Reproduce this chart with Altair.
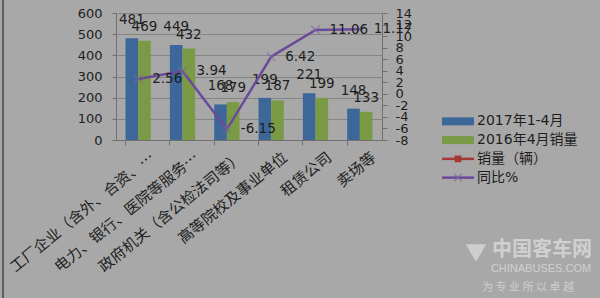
import altair as alt
import pandas as pd

categories = ["工厂企业（含外、合资、…", "电力、银行、医院等服务…", "政府机关（含公检法司等）",
              "高等院校及事业单位", "租赁公司", "卖场等"]
series_names = ["2017年1-4月", "2016年4月销量"]
sales_2017 = [481, 449, 168, 199, 221, 148]
sales_2016 = [469, 432, 179, 187, 199, 133]
yoy_pct = [2.56, 3.94, -6.15, 6.42, 11.06, 11.17]
legend_names = ["2017年1-4月", "2016年4月销量", "销量（辆）", "同比%"]
legend_kinds = ["bar", "bar", "line", "line"]
left_ticks = list(range(0, 601, 100))
right_ticks = list(range(-8, 15, 2))

BLUE = "#3d6798"
GREEN = "#7b9a45"
RED = "#a33a36"
PURPLE = "#6a4a9a"
BG = "#a8a8a8"
TXT = "#1e1e1e"
NUM_FONT = "DejaVu Sans"
CJK_FONT = "Noto Sans CJK SC"

bar_rows = []
for s, vals in zip(series_names, [sales_2017, sales_2016]):
    for c, v in zip(categories, vals):
        bar_rows.append({"category": c, "series": s, "value": v})
bar_df = pd.DataFrame(bar_rows)
line_df = pd.DataFrame({"category": categories, "pct": yoy_pct})
legend_df = pd.DataFrame({"name": legend_names, "kind": legend_kinds})

x_enc = alt.X(
    "category:N", sort=categories,
    scale=alt.Scale(paddingInner=0.43, paddingOuter=0.215),
    axis=alt.Axis(title=None, labelAngle=-39, labelAlign="right", labelBaseline="middle",
                  labelFont=CJK_FONT, labelFontSize=15, labelColor=TXT, labelLimit=0,
                  bandPosition=0, labelOffset=14, tickSize=5, labelPadding=10,
                  domainColor="#707070", tickColor="#707070"),
)
xoff = alt.XOffset("series:N", scale=alt.Scale(domain=series_names, paddingInner=0))
y_left = alt.Y(
    "value:Q",
    scale=alt.Scale(domain=[0, 600], nice=False),
    axis=alt.Axis(title=None, values=left_ticks, grid=True, gridColor="#858585",
                  domainColor="#707070", tickColor="#707070", tickSize=4, labelPadding=10,
                  labelFont=NUM_FONT, labelFontSize=13, labelColor=TXT, orient="left"),
)

base_bar = alt.Chart(bar_df)
bars = base_bar.mark_bar().encode(
    x=x_enc, xOffset=xoff, y=y_left,
    color=alt.Color("series:N", scale=alt.Scale(domain=series_names, range=[BLUE, GREEN]), legend=None),
)
t17 = base_bar.transform_filter(alt.datum.series == series_names[0]).mark_text(
    baseline="middle", dy=-18, font=NUM_FONT, fontSize=13.5, color=TXT
).encode(x=x_enc, xOffset=xoff, y=y_left, text="value:Q")
t16 = base_bar.transform_filter(alt.datum.series == series_names[1]).mark_text(
    baseline="middle", dy=-14, font=NUM_FONT, fontSize=13.5, color=TXT
).encode(x=x_enc, xOffset=xoff, y=y_left, text="value:Q")
bar_layer = alt.layer(bars, t17, t16)

y_right = alt.Y(
    "pct:Q",
    scale=alt.Scale(domain=[-8, 14], nice=False),
    axis=alt.Axis(title=None, orient="right", values=right_ticks, grid=False, labelOverlap=False,
                  domainColor="#707070", tickColor="#707070", tickSize=5, labelPadding=8,
                  labelFont=NUM_FONT, labelFontSize=13, labelColor=TXT,
                  labelExpr="replace(datum.label, '\u2212', '-')"),
)
base_line = alt.Chart(line_df)
line = base_line.mark_line(color=PURPLE, strokeWidth=2.5).encode(x=x_enc, y=y_right)
pts = base_line.mark_point(shape="M-1,-1L1,1M-1,1L1,-1", filled=False, color="#7a6a9a",
                           size=70, strokeWidth=1.2).encode(x=x_enc, y=y_right)
ltxt = base_line.transform_calculate(lbl="toString(datum.pct)").mark_text(
    align="left", baseline="middle", dx=14, font=NUM_FONT, fontSize=13.5, color=TXT
).encode(x=x_enc, y=y_right, text="lbl:N")
line_layer = alt.layer(line, pts, ltxt)

leg_y = alt.Y("name:N", sort=legend_names, scale=alt.Scale(range=[99, 174], padding=0), axis=None)
base_leg = alt.Chart(legend_df)
leg_rules = base_leg.mark_rule().encode(
    x=alt.value(326), x2=alt.value(358), y=leg_y,
    color=alt.Color("name:N", scale=alt.Scale(domain=legend_names, range=[BLUE, GREEN, RED, PURPLE]), legend=None),
    strokeWidth=alt.StrokeWidth("kind:N", scale=alt.Scale(domain=["bar", "line"], range=[8, 2.5]), legend=None),
)
leg_sq = base_leg.transform_filter(alt.datum.name == legend_names[2]).mark_point(
    shape="square", filled=True, color=RED, size=45, opacity=1
).encode(x=alt.value(342), y=leg_y)
leg_x = base_leg.transform_filter(alt.datum.name == legend_names[3]).mark_point(
    shape="M-1,-1L1,1M-1,1L1,-1", filled=False, color="#7a6a9a", size=60, strokeWidth=1.2
).encode(x=alt.value(342), y=leg_y)
leg_txt = base_leg.mark_text(align="left", baseline="middle", font=f"{NUM_FONT}, {CJK_FONT}",
                             fontSize=14, color=TXT).encode(x=alt.value(361), y=leg_y, text="name:N")
legend_layer = alt.layer(leg_rules, leg_sq, leg_x, leg_txt)

one = pd.DataFrame({"k": [0]})
border = alt.Chart(one).mark_rule(color="#5f5f5f", strokeWidth=2).encode(
    x=alt.value(-113), y=alt.value(-13), y2=alt.value(285))
wm_logo = alt.Chart(one).mark_point(shape="triangle-down", filled=True, color="#e8e8e8",
                                    opacity=0.6, size=420).encode(x=alt.value(360), y=alt.value(240))
wm1 = alt.Chart(one).mark_text(text="中国客车网", font=CJK_FONT, fontSize=20, fontWeight="bold",
                               color="#e6e6e6", opacity=0.65).encode(x=alt.value(426), y=alt.value(237))
wm2 = alt.Chart(one).mark_text(text="CHINABUSES.COM", font="Liberation Sans", fontSize=11,
                               color="#e6e6e6", opacity=0.65).encode(x=alt.value(425), y=alt.value(256))
wm3 = alt.Chart(one).mark_text(text="为 专 业 所 以 卓 越", font=CJK_FONT, fontSize=11,
                               color="#e6e6e6", opacity=0.6).encode(x=alt.value(412), y=alt.value(275))

chart = alt.layer(
    bar_layer, line_layer, legend_layer, border, wm_logo, wm1, wm2, wm3
).resolve_scale(
    y="independent", color="independent", strokeWidth="independent"
).properties(
    width=266, height=127,
    autosize=alt.AutoSizeParams(type="none"),
    padding={"left": 116, "top": 13, "right": 218, "bottom": 158},
    background=BG,
).configure_view(stroke=None)

chart.save("out.html", embed_options={"renderer": "svg", "actions": False})
